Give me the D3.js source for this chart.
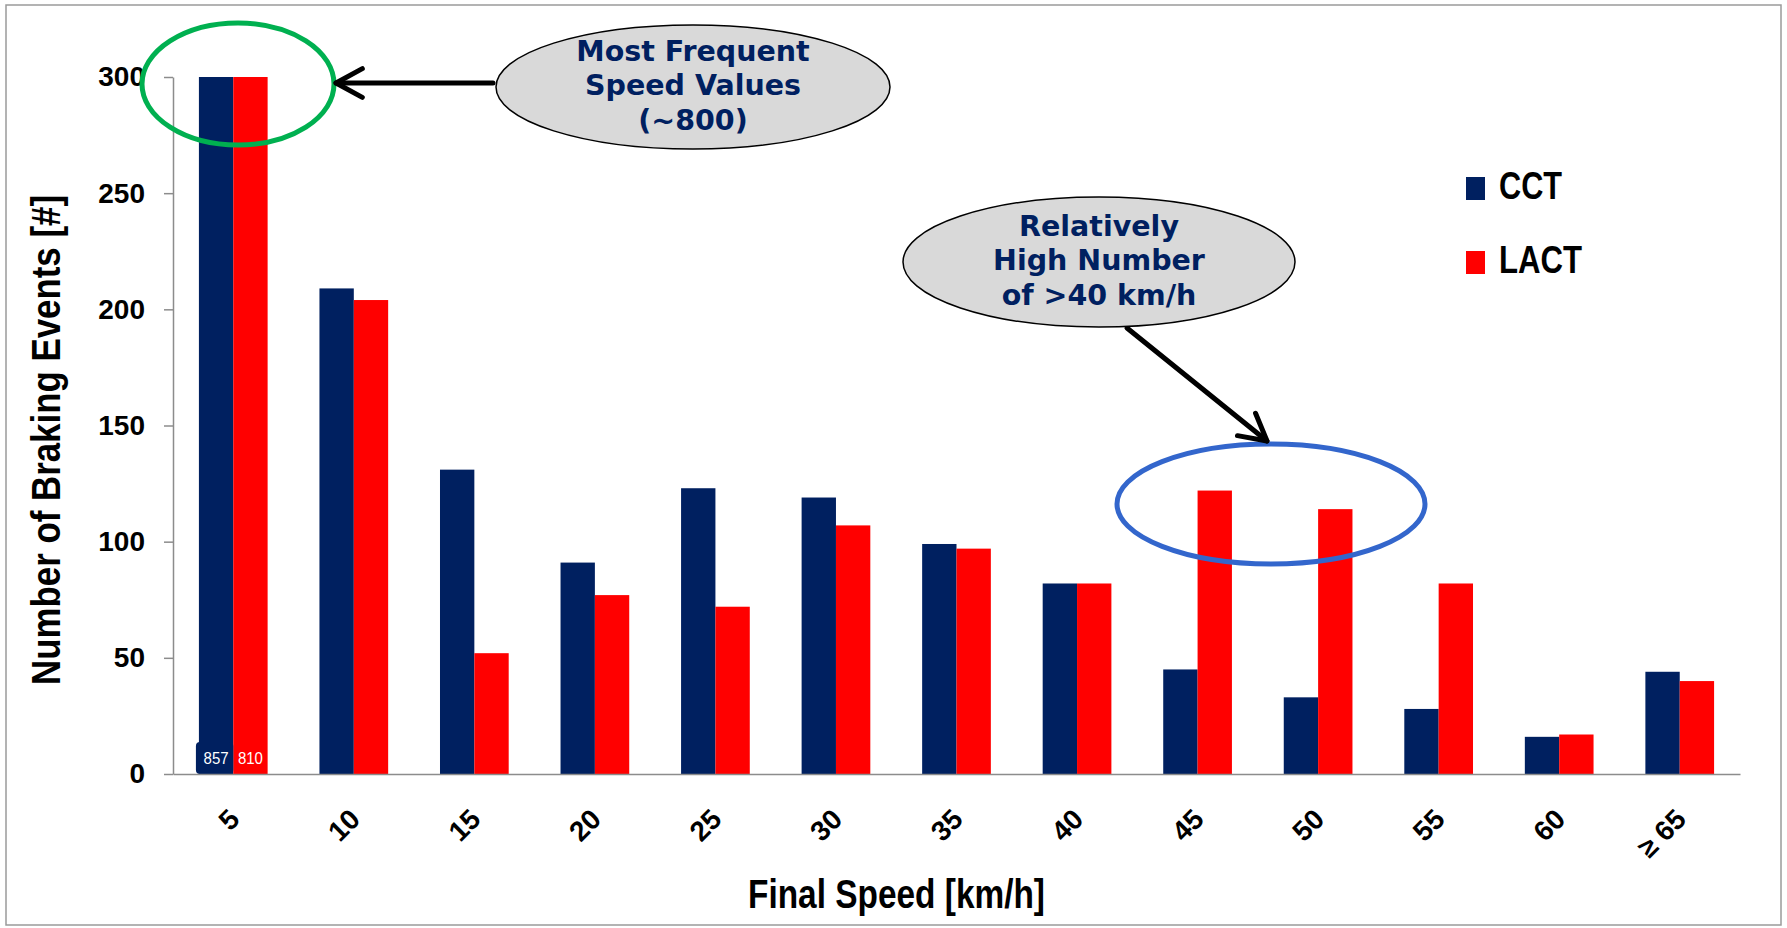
<!DOCTYPE html>
<head>
<title>Braking events by final speed</title>
<meta charset="utf-8">
<style>
body { margin: 0; background: #fff; }
.axis text { font-family: "Liberation Sans", Arial, sans-serif; font-weight: bold; fill: #000; }
.axis path, .axis line { stroke: #8c8c8c; stroke-width: 1.5px; }
.title { font-family: "Liberation Sans", Arial, sans-serif; font-weight: bold; font-size: 40px; }
.legend text { font-family: "Liberation Sans", Arial, sans-serif; font-weight: bold; font-size: 38px; }
.note text { font-family: "DejaVu Sans", Verdana, sans-serif; font-weight: bold; font-size: 28.5px; fill: #002060; }
</style>
</head>
<body>
<svg width="1787" height="928"></svg>
<script src="https://cdn.jsdelivr.net/npm/d3@7"></script>
<script>
/* global d3 */
// data
const speeds = ["5", "10", "15", "20", "25", "30", "35", "40", "45", "50", "55", "60", "\u2265 65"];
const cct  = [857, 209, 131, 91, 123, 119, 99, 82, 45, 33, 28, 16, 44];
const lact = [810, 204, 52, 77, 72, 107, 97, 82, 122, 114, 82, 17, 40];
const series = ["CCT", "LACT"];
const colors = ["#002060", "#ff0000"];
const yTicks = [0, 50, 100, 150, 200, 250, 300];

let svg = d3.select("svg"),
    pLeft = 173, pRight = 1740, pTop = 77, pBottom = 774;

// frame around the figure
svg.append("rect")
    .attr("x", 6).attr("y", 5)
    .attr("width", 1775).attr("height", 920)
    .attr("fill", "none").attr("stroke", "#9a9a9a").attr("stroke-width", 1.5);

let x = d3.scaleBand()
    .domain(speeds)
    .range([pLeft, pRight])
    .paddingInner(0.43)
    .paddingOuter(0.215);
let x1 = d3.scaleBand()
    .domain(series)
    .range([0, x.bandwidth()]);
let y = d3.scaleLinear()
    .domain([0, 300])
    .range([pBottom, pTop])
    .clamp(true);

let rows = speeds.map((s, i) => ({speed: s, values: [cct[i], lact[i]]}));

// bars
let groups = svg.append("g").selectAll("g")
    .data(rows)
    .join("g")
    .attr("transform", d => "translate(" + x(d.speed) + ",0)");
groups.selectAll("rect")
    .data(d => d.values.map((v, k) => ({key: series[k], v: v, k: k})))
    .join("rect")
    .attr("x", d => x1(d.key))
    .attr("y", d => y(d.v))
    .attr("width", x1.bandwidth())
    .attr("height", d => y(0) - y(d.v))
    .attr("fill", d => colors[d.k]);

// value labels for the clipped first group
let first = rows[0];
svg.append("rect")
    .attr("x", x(first.speed) + x1("CCT") - 3)
    .attr("y", y(0) - 32)
    .attr("width", x1.bandwidth() + 3)
    .attr("height", 32)
    .attr("rx", 4)
    .attr("fill", colors[0]);
svg.append("g").selectAll("text")
    .data(first.values)
    .join("text")
    .attr("x", (d, k) => x(first.speed) + x1(series[k]) + x1.bandwidth() / 2)
    .attr("y", y(0) - 14)
    .attr("text-anchor", "middle")
    .attr("dominant-baseline", "middle")
    .attr("font-family", "Liberation Sans, Arial, sans-serif")
    .attr("font-size", 16)
    .attr("textLength", 25)
    .attr("lengthAdjust", "spacingAndGlyphs")
    .attr("fill", "#fff")
    .text(d => d);

// axes
svg.append("g")
    .attr("class", "axis")
    .attr("transform", "translate(" + pLeft + ",0)")
    .call(d3.axisLeft(y).tickValues(yTicks).tickSize(9).tickPadding(19).tickSizeOuter(0))
    .selectAll("text").attr("font-size", 28);

let xa = svg.append("g")
    .attr("class", "axis")
    .attr("transform", "translate(0," + pBottom + ")")
    .call(d3.axisBottom(x).tickSize(0).tickSizeOuter(0));
xa.selectAll("text")
    .attr("font-size", 28)
    .attr("text-anchor", "end")
    .attr("dy", "0.35em")
    .attr("transform", "translate(1,40) rotate(-45)")
    .attr("y", 0).attr("x", 0);

// axis titles
svg.append("text")
    .attr("class", "title")
    .attr("x", (pLeft + pRight) / 2 - 60)
    .attr("y", 908)
    .attr("text-anchor", "middle")
    .attr("textLength", 297)
    .attr("lengthAdjust", "spacingAndGlyphs")
    .text("Final Speed [km/h]");
svg.append("text")
    .attr("class", "title")
    .attr("transform", "translate(60,440) rotate(-90)")
    .attr("text-anchor", "middle")
    .attr("textLength", 490)
    .attr("lengthAdjust", "spacingAndGlyphs")
    .text("Number of Braking Events [#]");

// legend
const legendWidths = [63, 83];
let legend = svg.append("g").attr("class", "legend")
    .selectAll("g")
    .data(series)
    .join("g")
    .attr("transform", (d, i) => "translate(1466," + (177 + i * 74) + ")");
legend.append("rect")
    .attr("width", 19).attr("height", 23)
    .attr("fill", (d, i) => colors[i]);
legend.append("text")
    .attr("x", 33).attr("y", 12)
    .attr("dominant-baseline", "middle")
    .attr("textLength", (d, i) => legendWidths[i])
    .attr("lengthAdjust", "spacingAndGlyphs")
    .text(d => d);

// annotations
function arrow(x0, y0, x1p, y1p) {
  let a = Math.atan2(y1p - y0, x1p - x0), L = 30, w = 0.5;
  let g = svg.append("g").attr("stroke", "#000").attr("stroke-width", 5)
      .attr("fill", "none").attr("stroke-linecap", "round").attr("stroke-linejoin", "round");
  g.append("line").attr("x1", x0).attr("y1", y0).attr("x2", x1p).attr("y2", y1p);
  g.append("path").attr("d", d3.line()([
    [x1p - L * Math.cos(a - w), y1p - L * Math.sin(a - w)],
    [x1p, y1p],
    [x1p - L * Math.cos(a + w), y1p - L * Math.sin(a + w)]
  ]));
}

function bubble(cx, cy, rx, ry, lines) {
  let g = svg.append("g").attr("class", "note");
  g.append("ellipse")
      .attr("cx", cx).attr("cy", cy).attr("rx", rx).attr("ry", ry)
      .attr("fill", "#d9d9d9").attr("stroke", "#000").attr("stroke-width", 1.5);
  g.selectAll("text")
      .data(lines)
      .join("text")
      .attr("x", cx)
      .attr("y", (d, i) => cy + (i - (lines.length - 1) / 2) * 34.5)
      .attr("text-anchor", "middle")
      .attr("dominant-baseline", "middle")
      .text(d => d);
}

svg.append("ellipse")
    .attr("cx", 238).attr("cy", 84).attr("rx", 96).attr("ry", 61)
    .attr("fill", "none").attr("stroke", "#00b050").attr("stroke-width", 5);
arrow(493, 83, 336, 83);
bubble(693, 87, 197, 62, ["Most Frequent", "Speed Values", "(~800)"]);

svg.append("ellipse")
    .attr("cx", 1271).attr("cy", 504).attr("rx", 154).attr("ry", 60)
    .attr("fill", "none").attr("stroke", "#3366cc").attr("stroke-width", 5);
arrow(1127, 328, 1267, 441);
bubble(1099, 262, 196, 65, ["Relatively", "High Number", "of >40 km/h"]);
</script>
</body>
